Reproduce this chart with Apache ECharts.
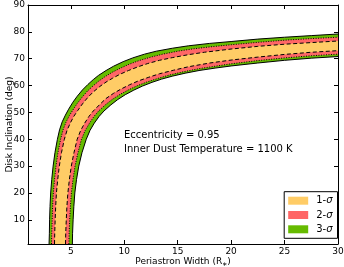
<!DOCTYPE html>
<html><head><meta charset="utf-8">
<script src="https://cdn.jsdelivr.net/npm/echarts@6/dist/echarts.min.js"></script>
<style>html,body{margin:0;padding:0;background:#fff}#c{width:344px;height:267px}</style>
</head><body><div id="c"></div>
<script>
// tick labels
const xTicks = [5, 10, 15, 20, 25, 30];
const yTicks = [10, 20, 30, 40, 50, 60, 70, 80, 90];
const legendNames = ['1-σ', '2-σ', '3-σ'];
const annotationLines = ['Eccentricity = 0.95', 'Inner Dust Temperature = 1100 K'];

// boundary curves [periastron width, inclination]
const sigma3Upper = [[2.97,1],[3.0,5],[3.02,10],[3.06,15],[3.12,20],[3.22,25],[3.35,30],[3.52,35],[3.75,40],[3.95,43.5],[4.2,46.5],[4.5,49],[4.8,51.2],[5.2,53.8],[5.6,56],[6.1,58.4],[6.6,60.4],[7.1,62.2],[7.6,63.8],[8.3,65.6],[9.0,67.2],[9.9,68.9],[10.8,70.3],[11.9,71.7],[13,72.8],[14.5,73.9],[16,74.8],[18,75.7],[20,76.4],[22.5,77.3],[25,78],[27.5,78.6],[30,79.2]];
const sigma2Upper = [[3.2,1],[3.22,5],[3.26,10],[3.3,15],[3.37,20],[3.48,25],[3.62,30],[3.8,35],[4.05,40],[4.28,43.5],[4.55,46.3],[4.87,48.8],[5.2,50.9],[5.6,53.3],[6.05,55.6],[6.55,57.9],[7.1,59.9],[7.6,61.6],[8.2,63.3],[8.9,65.0],[9.6,66.4],[10.5,68.0],[11.4,69.3],[12.5,70.6],[13.6,71.7],[15,72.8],[16.5,73.7],[18,74.4],[20,75.2],[22.5,76.1],[25,76.9],[27.5,77.5],[30,78.0]];
const sigma1Upper = [[3.48,1],[3.5,5],[3.54,10],[3.59,15],[3.66,20],[3.78,25],[3.93,30],[4.13,35],[4.4,40],[4.65,43.3],[4.95,46],[5.28,48.5],[5.65,50.7],[6.1,53.2],[6.6,55.6],[7.1,57.6],[7.7,59.6],[8.3,61.3],[8.9,62.7],[9.6,64.2],[10.4,65.6],[11.3,67.0],[12.2,68.2],[13.3,69.4],[14.5,70.4],[16,71.5],[17.5,72.4],[20,73.6],[22.5,74.6],[25,75.4],[27.5,76.0],[30,76.6]];
const sigma1Lower = [[4.51,1],[4.53,5],[4.58,10],[4.64,15],[4.73,20],[4.87,25],[5.05,30],[5.3,35],[5.6,40],[5.93,43.3],[6.3,46],[6.7,48.5],[7.1,50.5],[7.7,52.9],[8.3,55.2],[9.0,57.1],[9.7,58.7],[10.5,60.3],[11.3,61.7],[12.3,63.1],[13.3,64.4],[14.6,65.7],[16,67.0],[18,68.4],[20,69.5],[22.5,70.6],[25,71.6],[27.5,72.4],[30,73.0]];
const sigma2Lower = [[4.83,1],[4.85,5],[4.9,10],[4.97,15],[5.06,20],[5.21,25],[5.4,30],[5.67,35],[6.0,40],[6.35,43.3],[6.75,46],[7.17,48.5],[7.6,50.5],[8.25,52.9],[8.9,54.9],[9.6,56.7],[10.4,58.4],[11.2,59.9],[12.1,61.3],[13.1,62.6],[14.2,63.9],[15.5,65.1],[17,66.3],[18.5,67.2],[20,68.1],[22.5,69.3],[25,70.3],[27.5,71.1],[30,71.7]];
const sigma3Lower = [[5.15,1],[5.17,5],[5.22,10],[5.29,15],[5.38,20],[5.54,25],[5.75,30],[6.05,35],[6.45,40],[6.8,43.3],[7.2,46],[7.65,48.5],[8.1,50.5],[8.75,52.8],[9.4,54.8],[10.1,56.6],[10.9,58.3],[11.7,59.8],[12.6,61.2],[13.5,62.4],[14.5,63.5],[15.7,64.6],[17,65.6],[18.5,66.5],[20,67.3],[22.5,68.4],[25,69.4],[27.5,70.2],[30,70.8]];

const FONT = 'DejaVu Sans';
const chart = echarts.init(document.getElementById('c'), null, {renderer: 'canvas'});

function band(name, upper, lower, color) {
  return {
    type: 'custom', name: name, coordinateSystem: 'cartesian2d',
    xAxisIndex: 0, yAxisIndex: 0, silent: true, z: 1,
    itemStyle: {color: color},
    data: [upper[0]],
    renderItem: function (params, api) {
      const pts = upper.concat(lower.slice().reverse()).map(function (p) { return api.coord(p); });
      return {type: 'polygon', shape: {points: pts}, style: {fill: color, stroke: null}};
    }
  };
}
function curve(data, dash, z) {
  return {
    type: 'line', data: data, showSymbol: false, silent: true, z: z,
    xAxisIndex: 0, yAxisIndex: 0,
    lineStyle: {color: '#000', width: 1, type: dash}
  };
}

const axisCommon = {
  axisLine: {show: true, lineStyle: {color: '#000', width: 1}},
  splitLine: {show: false}
};

const option = {
  animation: false,
  grid: {left: 28, right: 6, top: 5, bottom: 23, containLabel: false, outerBoundsMode: 'none'},
  xAxis: [
    Object.assign({}, axisCommon, {
      type: 'value', min: 1, max: 30, position: 'bottom',
      axisTick: {show: true, inside: true, length: 4, customValues: xTicks, lineStyle: {color: '#000'}},
      axisLabel: {customValues: xTicks, margin: 3, color: '#000', fontFamily: FONT, fontSize: 9},
      name: 'Periastron Width (R{s|∗})', nameLocation: 'middle', nameGap: 13, nameMoveOverlap: false,
      nameTextStyle: {color: '#000', fontFamily: FONT, fontSize: 9, rich: {s: {fontSize: 6, fontFamily: FONT, verticalAlign: 'bottom', padding: [4, 0, 0, 0]}}}
    }),
    Object.assign({}, axisCommon, {
      type: 'value', min: 1, max: 30, position: 'top',
      axisTick: {show: true, inside: true, length: 4, customValues: xTicks, lineStyle: {color: '#000'}},
      axisLabel: {show: false}
    })
  ],
  yAxis: [
    Object.assign({}, axisCommon, {
      type: 'value', min: 1, max: 90, position: 'left',
      axisTick: {show: true, inside: true, length: 4, customValues: yTicks, lineStyle: {color: '#000'}},
      axisLabel: {customValues: yTicks, margin: 3, color: '#000', fontFamily: FONT, fontSize: 9},
      name: 'Disk Inclination (deg)', nameLocation: 'middle', nameGap: 14, nameMoveOverlap: false,
      nameTextStyle: {color: '#000', fontFamily: FONT, fontSize: 9}
    }),
    Object.assign({}, axisCommon, {
      type: 'value', min: 1, max: 90, position: 'right',
      axisTick: {show: true, inside: true, length: 4, customValues: yTicks, lineStyle: {color: '#000'}},
      axisLabel: {show: false}
    })
  ],
  legend: {
    data: legendNames, orient: 'vertical', right: 6.5, bottom: 28.7,
    icon: 'rect', itemWidth: 20, itemHeight: 8, itemGap: 4.3,
    backgroundColor: '#fff', borderColor: '#000', borderWidth: 1, borderRadius: 0,
    padding: [4, 5, 4, 4],
    formatter: function (n) { const p = n.split('-'); return p[0] + '-{s|' + p[1] + '}'; },
    textStyle: {color: '#000', fontFamily: FONT, fontSize: 10, lineHeight: 10, padding: [0, 0, 0, 3],
      rich: {s: {fontStyle: 'italic', fontFamily: FONT, fontSize: 10, lineHeight: 10}}},
    selectedMode: false
  },
  graphic: [{
    type: 'text', left: 124, top: 129, silent: true,
    style: {text: annotationLines.join('\n'), fontFamily: FONT, fontSize: 10, lineHeight: 13.5, fill: '#000'}
  }],
  series: [
    band('3-σ', sigma3Upper, sigma3Lower, '#66bb00'),
    band('2-σ', sigma2Upper, sigma2Lower, '#ff6666'),
    band('1-σ', sigma1Upper, sigma1Lower, '#ffcc66'),
    curve(sigma3Upper, 'solid', 3),
    curve(sigma3Lower, 'solid', 3),
    curve(sigma2Upper, [1, 1.5], 3),
    curve(sigma2Lower, [1, 1.5], 3),
    curve(sigma1Upper, [4, 2.5], 3),
    curve(sigma1Lower, [4, 2.5], 3)
  ]
};
chart.setOption(option);
</script>
</body></html>
